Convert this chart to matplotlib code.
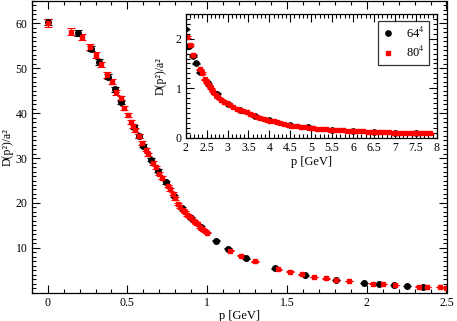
import matplotlib
matplotlib.use('Agg')
import matplotlib.pyplot as plt
from matplotlib.ticker import MultipleLocator

plt.rcParams['font.family'] = ['Liberation Serif', 'DejaVu Serif']
plt.rcParams['mathtext.fontset'] = 'stix'

# 64^4 lattice (black circles)
p64 = [0.0, 0.19, 0.27, 0.324, 0.38, 0.425, 0.46, 0.539, 0.57, 0.597, 0.649, 0.69,
       0.742, 0.79, 0.84, 0.9, 0.96, 1.057, 1.132, 1.244, 1.427, 1.613, 1.806, 1.984,
       2.08, 2.17, 2.25, 2.35, 2.54, 2.74, 3.0, 3.3, 3.66, 4.0, 4.5, 4.92, 5.5, 6.0,
       6.5, 7.0, 7.5]
d64 = [60.3, 57.9, 54.4, 51.4, 48.1, 45.3, 42.5, 37.0, 34.9, 32.8, 29.6, 27.2,
       24.6, 21.6, 18.8, 16.6, 14.6, 11.6, 9.84, 7.7, 5.4, 3.85, 2.8, 2.2,
       1.86, 1.66, 1.50, 1.32, 1.10, 0.89, 0.69, 0.55, 0.43, 0.35, 0.26, 0.21, 0.163, 0.138,
       0.118, 0.103, 0.09]

# 80^4 lattice (red squares)
p80 = [0.0, 0.147, 0.214, 0.265, 0.303, 0.336, 0.37, 0.404, 0.43, 0.458, 0.481, 0.504,
       0.525, 0.535, 0.547, 0.57, 0.593, 0.615, 0.632, 0.659, 0.676, 0.7, 0.715, 0.752,
       0.769, 0.784, 0.8, 0.815, 0.83, 0.846, 0.86, 0.875, 0.887, 0.9, 0.915, 0.929,
       0.942, 0.955, 0.97, 0.985, 1.0, 1.142, 1.209, 1.298, 1.443, 1.516, 1.597, 1.667,
       1.744, 1.806, 1.889, 2.04, 2.10, 2.18, 2.33, 2.38, 2.46, 2.50, 2.55, 2.60, 2.66,
       2.72, 2.78, 2.85, 2.91, 2.98, 3.05, 3.12, 3.22, 3.30, 3.38, 3.46, 3.54, 3.62,
       3.70, 3.78, 3.86, 3.94, 4.02, 4.10, 4.18, 4.25, 4.35, 4.45, 4.55, 4.65, 4.75,
       4.85, 4.97, 5.05, 5.15, 5.25, 5.35, 5.45, 5.55, 5.65, 5.75, 5.85, 5.95, 6.05,
       6.15, 6.25, 6.35, 6.45, 6.55, 6.65, 6.75, 6.85, 6.96, 7.05, 7.15, 7.25, 7.35,
       7.45, 7.55, 7.65, 7.75, 7.84]
d80 = [60.0, 58.2, 56.9, 54.7, 53.0, 50.9, 48.5, 47.0, 44.7, 43.3, 41.1, 39.6,
       38.1, 37.2, 36.3, 35.0, 33.3, 31.9, 30.8, 28.9, 27.9, 26.5, 25.6, 23.8,
       23.0, 22.1, 21.0, 19.7, 19.1, 18.5, 18.0, 17.4, 17.0, 16.6, 16.0, 15.6,
       15.2, 14.7, 14.2, 13.8, 13.4, 9.4, 8.2, 7.0, 5.2, 4.7, 4.1, 3.55,
       3.18, 2.85, 2.58, 2.03, 1.88, 1.68, 1.38, 1.31, 1.18, 1.12, 1.06, 1.00, 0.93,
       0.87, 0.82, 0.77, 0.73, 0.70, 0.66, 0.62, 0.59, 0.56, 0.53, 0.51, 0.48, 0.45,
       0.42, 0.40, 0.38, 0.36, 0.345, 0.33, 0.315, 0.30, 0.28, 0.265, 0.245, 0.23, 0.22,
       0.21, 0.20, 0.195, 0.185, 0.18, 0.172, 0.165, 0.16, 0.155, 0.15, 0.145, 0.14, 0.135,
       0.13, 0.127, 0.123, 0.12, 0.116, 0.113, 0.11, 0.107, 0.105, 0.10, 0.098, 0.095, 0.093,
       0.091, 0.089, 0.087, 0.086, 0.085]

rel_err = 0.012

labels = ['64$^4$', '80$^4$']
ylab = 'D(p²)/a²'
xlab = 'p [GeV]'


def style(ax, xmaj, xmin, ymaj, ymin):
    ax.xaxis.set_major_locator(MultipleLocator(xmaj))
    ax.xaxis.set_minor_locator(MultipleLocator(xmin))
    ax.yaxis.set_major_locator(MultipleLocator(ymaj))
    ax.yaxis.set_minor_locator(MultipleLocator(ymin))
    ax.tick_params(which='both', direction='in', top=True, right=True, width=0.8,
                   labelsize=8.5)
    ax.tick_params(axis='x', pad=3)
    ax.tick_params(axis='y', pad=3)
    ax.tick_params(which='major', length=6)
    ax.tick_params(which='minor', length=3)
    for s in ax.spines.values():
        s.set_linewidth(0.9)


def draw(ax, ms=4.0):
    e64 = [v * rel_err for v in d64]
    e80 = [v * rel_err for v in d80]
    e64[0] = 0.6
    e80[0] = 0.9
    ax.errorbar(p64, d64, yerr=e64, fmt='o', color='black', ms=ms, capsize=3.2,
                elinewidth=0.8, capthick=0.8, label=labels[0])
    ax.errorbar(p80, d80, yerr=e80, fmt='s', color='#ff0000', ms=ms - 0.6, capsize=3.2,
                elinewidth=0.8, capthick=0.8, label=labels[1])


fig = plt.figure(figsize=(4.57, 3.21), dpi=100)
W, H = 457, 321

ax = fig.add_axes([31.7 / W, (H - 292.7) / H, (446.5 - 31.7) / W, (292.7 - 1) / H])
draw(ax)
ax.set_xlim(-0.1, 2.5)
ax.set_ylim(0, 65)
style(ax, 0.5, 0.1, 10, 1)
ax.set_yticks([10, 20, 30, 40, 50, 60])
ax.set_xticks([0, 0.5, 1, 1.5, 2, 2.5])
ax.set_xticklabels(['0', '0.5', '1', '1.5', '2', '2.5'])
ax.set_xlabel(xlab, fontsize=9)
ax.set_ylabel(ylab, fontsize=8.5)
ax.xaxis.set_label_coords(0.5, -0.06)
ax.yaxis.set_label_coords(-0.043, 0.5)

ins = fig.add_axes([185.7 / W, (H - 137.7) / H, (436.7 - 185.7) / W, (137.7 - 14) / H])
draw(ins, ms=3.8)
ins.set_xlim(2, 8)
ins.set_ylim(0, 2.5)
style(ins, 0.5, 0.1, 1, 0.1)
ins.set_xticks([2, 2.5, 3, 3.5, 4, 4.5, 5, 5.5, 6, 6.5, 7, 7.5, 8])
ins.set_xticklabels(['2', '2.5', '3', '3.5', '4', '4.5', '5', '5.5', '6', '6.5', '7', '7.5', '8'])
ins.set_yticks([0, 1, 2])
ins.set_xlabel(xlab, fontsize=9)
ins.set_ylabel(ylab, fontsize=8.5)
ins.xaxis.set_label_coords(0.5, -0.15)
ins.yaxis.set_label_coords(-0.075, 0.5)

handles, lab = ins.get_legend_handles_labels()
handles = [h[0] for h in handles]
leg = ins.legend(handles, lab, loc='upper right', bbox_to_anchor=(0.971, 0.946),
                 fontsize=9, frameon=True, fancybox=False, edgecolor='black',
                 handlelength=0.8, handletextpad=1.0, borderpad=0.4, labelspacing=0.35,
                 borderaxespad=0)
leg.get_frame().set_linewidth(0.9)

fig.savefig('out.png', dpi=100)
